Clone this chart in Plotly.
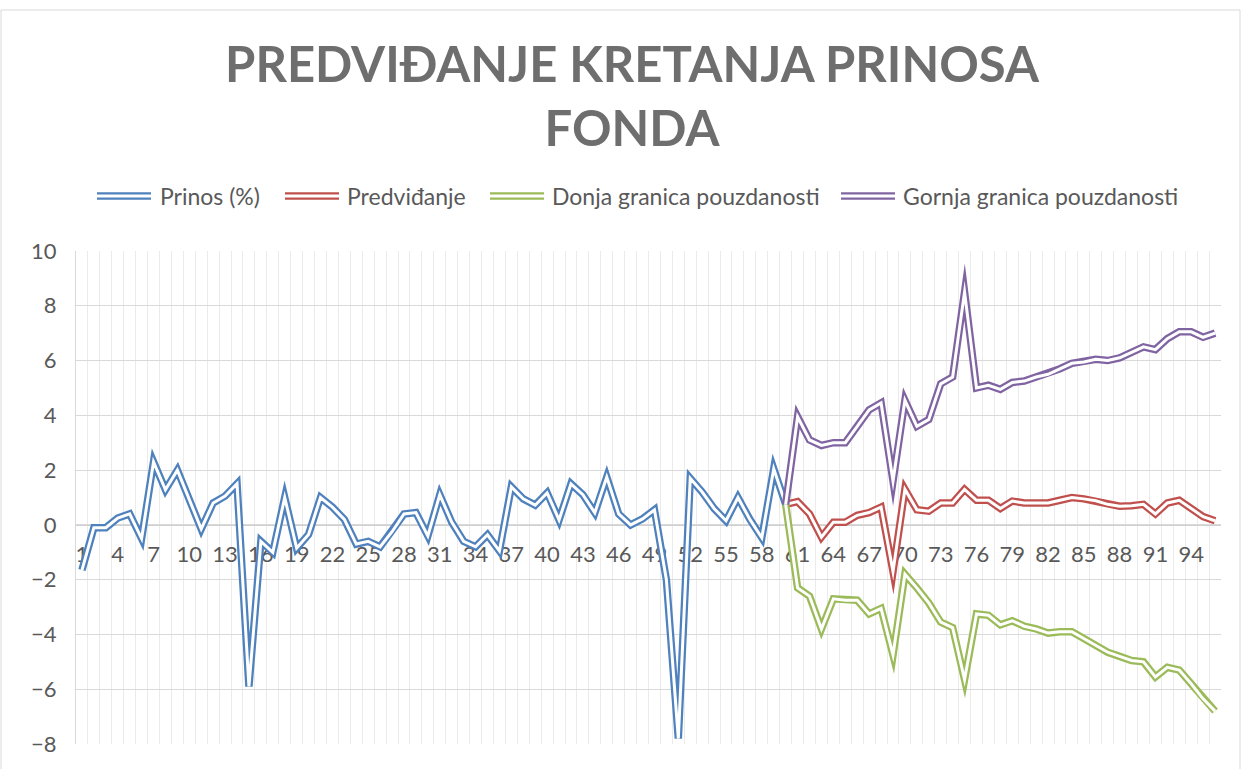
import plotly.graph_objects as go

# ---- data -------------------------------------------------------------
periods = list(range(1, 97))

# historical return (%), periods 1..60
prinos = [
    -1.65, -0.1, -0.1, 0.25, 0.4, -0.5, 2.3, 1.28, 2.0, 0.95,
    -0.15, 0.8, 1.05, 1.5, -5.9, -0.6, -1.0, 1.0, -0.85, -0.35,
    1.0, 0.65, 0.2, -0.7, -0.6, -0.8, -0.25, 0.4, 0.45, -0.4,
    1.1, 0.1, -0.6, -0.8, -0.36, -0.95, 1.39, 0.95, 0.72, 1.17,
    0.18, 1.5, 1.1, 0.44, 1.75, 0.4, 0.0, 0.22, 0.55, -2.0,
    -7.8, 1.7, 1.2, 0.6, 0.15, 1.0, 0.2, -0.47, 2.05, 0.75,
]

# forecast and confidence bounds, periods 60..96
predvidjanje = [
    0.75, 0.85, 0.4, -0.45, 0.1, 0.1, 0.35, 0.45, 0.65, -1.7,
    1.3, 0.55, 0.5, 0.8, 0.8, 1.3, 0.9, 0.9, 0.6, 0.87,
    0.8, 0.8, 0.8, 0.9, 1.0, 0.95, 0.88, 0.75, 0.68, 0.7,
    0.75, 0.4, 0.8, 0.9, 0.6, 0.3, 0.15,
]
donja = [
    0.75, -2.3, -2.6, -3.8, -2.7, -2.75, -2.75, -3.25, -3.05, -4.75,
    -1.8, -2.3, -2.85, -3.55, -3.75, -5.65, -3.25, -3.3, -3.65, -3.5,
    -3.7, -3.8, -3.95, -3.9, -3.9, -4.15, -4.4, -4.65, -4.8, -4.95,
    -5.0, -5.55, -5.2, -5.3, -5.8, -6.35, -6.8,
]
gornja = [
    0.75, 3.95, 3.1, 2.9, 3.0, 3.0, 3.6, 4.2, 4.45, 1.6,
    4.55, 3.6, 3.85, 5.15, 5.4, 8.5, 5.0, 5.1, 4.95, 5.2,
    5.25, 5.4, 5.5, 5.7, 5.9, 5.95, 6.05, 6.0, 6.1, 6.3,
    6.5, 6.4, 6.8, 7.05, 7.05, 6.85, 7.0,
]

hist_periods = periods[:60]
fc_periods = periods[59:]

tick_vals = list(range(1, 97, 3))
tick_text = [str(v) for v in tick_vals]
y_ticks = list(range(-8, 11, 2))

series = [
    ("Prinos (%)", hist_periods, prinos, "#4F81BD"),
    ("Predviđanje", fc_periods, predvidjanje, "#C0504D"),
    ("Donja granica pouzdanosti", fc_periods, donja, "#9BBB59"),
    ("Gornja granica pouzdanosti", fc_periods, gornja, "#8064A2"),
]

TEXT = "#595959"
FONT = "Lato"
OUTER_W = 7.5   # full width of the double stroke
INNER_W = 3.0   # white gap in the middle

fig = go.Figure()

# each series is drawn as a wide coloured stroke with a thin white stroke on top
for name, xs, ys, color in series:
    fig.add_trace(go.Scatter(x=xs, y=ys, mode="lines", name=name,
                             line=dict(color=color, width=OUTER_W),
                             showlegend=False))
    fig.add_trace(go.Scatter(x=xs, y=ys, mode="lines", name=name,
                             line=dict(color="white", width=INNER_W),
                             showlegend=False, hoverinfo="skip"))

# ---- layout geometry (pixels) -----------------------------------------
W, H = 1244, 769
L, R, T, B = 76, 23, 251, 25
plot_w = W - L - R
plot_h = H - T - B


def px_x(px):
    return (px - L) / plot_w


def px_y(py):
    return (H - B - py) / plot_h


# ---- legend drawn along the top ---------------------------------------
legend_y = px_y(196)
legend_items = [(97, 151, 158), (285, 339, 345), (490, 544, 550), (841, 895, 901)]
shapes = []
annotations = []
for (x0, x1, xt), (name, _, _, color) in zip(legend_items, series):
    shapes.append(dict(type="line", xref="paper", yref="paper",
                       x0=px_x(x0), x1=px_x(x1), y0=legend_y, y1=legend_y,
                       line=dict(color=color, width=OUTER_W)))
    shapes.append(dict(type="line", xref="paper", yref="paper",
                       x0=px_x(x0), x1=px_x(x1), y0=legend_y, y1=legend_y,
                       line=dict(color="white", width=INNER_W)))
    annotations.append(dict(xref="paper", yref="paper", x=px_x(xt), y=legend_y,
                            text=name, showarrow=False, xanchor="left",
                            yanchor="middle",
                            font=dict(family=FONT, size=23, color=TEXT)))

# chart-area frame
shapes.append(dict(type="rect", xref="paper", yref="paper",
                   x0=px_x(1), x1=px_x(1240), y0=px_y(800), y1=px_y(10),
                   line=dict(color="#D9D9D9", width=1), layer="below"))

fig.update_layout(
    width=W, height=H,
    margin=dict(l=L, r=R, t=T, b=B),
    paper_bgcolor="white", plot_bgcolor="white",
    font=dict(family=FONT, color=TEXT),
    title=dict(text="PREDVIĐANJE KRETANJA PRINOSA<br>FONDA",
               x=632 / W, xanchor="center", xref="container",
               y=1 - 82 / H, yanchor="top", yref="container",
               font=dict(family=FONT, size=49, color="#6E6E6E", weight="bold")),
    shapes=shapes,
    annotations=annotations,
    showlegend=False,
)

fig.update_yaxes(
    range=[-8, 10], tickvals=y_ticks,
    showgrid=True, gridcolor="#D9D9D9", gridwidth=1,
    zeroline=False, showline=True, linecolor="#D9D9D9", linewidth=1,
    ticks="", ticklabelstandoff=14,
    tickfont=dict(family=FONT, size=22, color=TEXT),
)

fig.update_xaxes(
    range=[0.5, 96.5], tickmode="array", tickvals=tick_vals, ticktext=tick_text,
    showgrid=False, zeroline=False,
    minor=dict(tickmode="array", tickvals=[p + 0.5 for p in range(0, 97)],
               showgrid=True, gridcolor="#EBEBEB", gridwidth=1, ticks=""),
    anchor="free", position=8 / 18,
    showline=True, linecolor="#D0D0D0", linewidth=1,
    ticks="", ticklabelstandoff=10, layer="below traces",
    tickfont=dict(family=FONT, size=22, color=TEXT),
)

# pointed (mitered) corners on the series lines, beveled only on extreme spikes
join_css = (
    "var st=document.createElement('style');"
    "st.textContent='.scatterlayer .js-line{stroke-linejoin:miter;stroke-miterlimit:8;}';"
    "document.head.appendChild(st);"
)

fig.write_html("out.html", post_script=join_css)
